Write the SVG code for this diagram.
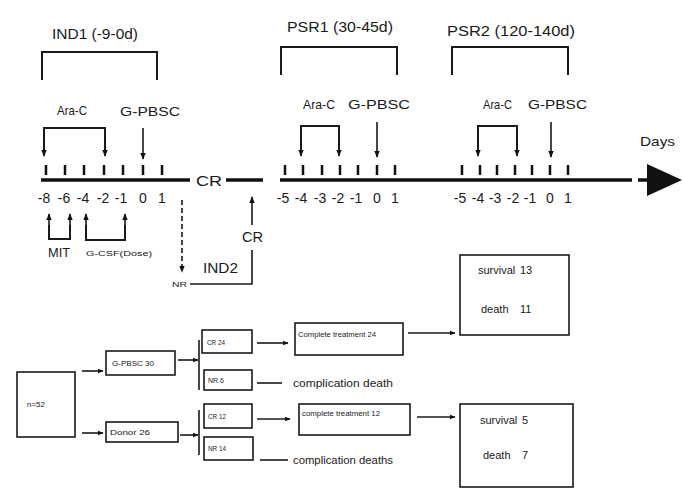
<svg xmlns="http://www.w3.org/2000/svg" width="682" height="488" viewBox="0 0 682 488">
<defs>
<style>
.t{font-family:"Liberation Sans",Arial,sans-serif;fill:#1a1a1a}
.big{font-size:14px}
.mid{font-size:13px}
.num{font-size:14px;text-anchor:middle}
.sm{font-size:8px}
.fl{font-size:11px}
.ln{stroke:#1a1a1a;stroke-width:1.6;fill:none}
.br{stroke:#1a1a1a;stroke-width:2;fill:none}
.ax{stroke:#111;stroke-width:3.5;fill:none}
.tk{stroke:#111;stroke-width:2.5}
.bx{stroke:#1a1a1a;stroke-width:1.6;fill:#fff}
</style>
<marker id="ah" viewBox="0 0 10 10" refX="9" refY="5" markerWidth="7" markerHeight="7" markerUnits="userSpaceOnUse" orient="auto">
<path d="M0,1 L10,5 L0,9 Z" fill="#111"/>
</marker>
<marker id="ahs" viewBox="0 0 10 10" refX="9" refY="5" markerWidth="6" markerHeight="6" markerUnits="userSpaceOnUse" orient="auto">
<path d="M0,1 L10,5 L0,9 Z" fill="#111"/>
</marker>
</defs>
<rect width="682" height="488" fill="#fff"/>

<g id="ind1">
<text class="t big" x="52" y="39" textLength="86" lengthAdjust="spacingAndGlyphs">IND1 (-9-0d)</text>
<path class="br" d="M42,80 V52 H157 V80"/>
<text class="t mid" x="57" y="115" textLength="30" lengthAdjust="spacingAndGlyphs">Ara-C</text>
<text class="t mid" x="120" y="116" textLength="60" lengthAdjust="spacingAndGlyphs">G-PBSC</text>
</g>
<g id="psr1">
<text class="t big" x="287" y="32" textLength="106" lengthAdjust="spacingAndGlyphs">PSR1 (30-45d)</text>
<path class="br" d="M281,75 V47 H397 V75"/>
<text class="t mid" x="303" y="109" textLength="32" lengthAdjust="spacingAndGlyphs">Ara-C</text>
<text class="t mid" x="348" y="109" textLength="62" lengthAdjust="spacingAndGlyphs">G-PBSC</text>
</g>
<g id="psr2">
<text class="t big" x="447" y="36" textLength="128" lengthAdjust="spacingAndGlyphs">PSR2 (120-140d)</text>
<path class="br" d="M452,75 V47 H568 V75"/>
<text class="t mid" x="483" y="109" textLength="29" lengthAdjust="spacingAndGlyphs">Ara-C</text>
<text class="t mid" x="528" y="109" textLength="59" lengthAdjust="spacingAndGlyphs">G-PBSC</text>
</g>
<g id="days">
<text class="t mid" x="640" y="146" textLength="35" lengthAdjust="spacingAndGlyphs">Days</text>
</g>

<g id="axis">
<line class="ax" x1="41" y1="180" x2="190" y2="180"/>
<text class="t big" x="196" y="186" textLength="26" lengthAdjust="spacingAndGlyphs">CR</text>
<line class="ax" x1="226" y1="180" x2="263" y2="180"/>
<line class="ax" x1="280" y1="180" x2="632" y2="180"/>
<line class="ax" x1="638" y1="180" x2="650" y2="180"/>
<polygon points="647,164 682,180 647,196" fill="#111"/>
<g class="tk">
<line x1="46" y1="165" x2="46" y2="175"/><line x1="65" y1="165" x2="65" y2="175"/><line x1="84" y1="165" x2="84" y2="175"/><line x1="104" y1="165" x2="104" y2="175"/><line x1="123" y1="165" x2="123" y2="175"/><line x1="143" y1="165" x2="143" y2="175"/><line x1="162" y1="165" x2="162" y2="175"/>
<line x1="285" y1="165" x2="285" y2="175"/><line x1="303" y1="165" x2="303" y2="175"/><line x1="322" y1="165" x2="322" y2="175"/><line x1="340" y1="165" x2="340" y2="175"/><line x1="358" y1="165" x2="358" y2="175"/><line x1="377" y1="165" x2="377" y2="175"/><line x1="395" y1="165" x2="395" y2="175"/>
<line x1="462" y1="165" x2="462" y2="175"/><line x1="480" y1="165" x2="480" y2="175"/><line x1="497" y1="165" x2="497" y2="175"/><line x1="515" y1="165" x2="515" y2="175"/><line x1="532" y1="165" x2="532" y2="175"/><line x1="550" y1="165" x2="550" y2="175"/><line x1="568" y1="165" x2="568" y2="175"/>
</g>
<g class="t num">
<text x="44" y="203">-8</text><text x="64" y="203">-6</text><text x="83" y="203">-4</text><text x="103" y="203">-2</text><text x="121" y="203">-1</text><text x="143" y="203">0</text><text x="162" y="203">1</text>
<text x="283" y="203">-5</text><text x="301" y="203">-4</text><text x="320" y="203">-3</text><text x="338" y="203">-2</text><text x="356" y="203">-1</text><text x="377" y="203">0</text><text x="395" y="203">1</text>
<text x="460" y="203">-5</text><text x="478" y="203">-4</text><text x="495" y="203">-3</text><text x="513" y="203">-2</text><text x="530" y="203">-1</text><text x="550" y="203">0</text><text x="568" y="203">1</text>
</g>
</g>

<g id="timeline-connectors">
<path class="br" d="M44,152 V128 H105 V152" />
<line class="ln" x1="44" y1="135" x2="44" y2="156" marker-end="url(#ah)"/>
<line class="ln" x1="105" y1="135" x2="105" y2="156" marker-end="url(#ah)"/>
<line class="ln" x1="143" y1="128" x2="143" y2="159" marker-end="url(#ah)"/>
<path class="br" d="M301,150 V126 H339 V150"/>
<line class="ln" x1="301" y1="135" x2="301" y2="156" marker-end="url(#ah)"/>
<line class="ln" x1="339" y1="135" x2="339" y2="156" marker-end="url(#ah)"/>
<line class="ln" x1="377" y1="122" x2="377" y2="157" marker-end="url(#ah)"/>
<path class="br" d="M478,150 V126 H517 V150"/>
<line class="ln" x1="478" y1="135" x2="478" y2="156" marker-end="url(#ah)"/>
<line class="ln" x1="517" y1="135" x2="517" y2="156" marker-end="url(#ah)"/>
<line class="ln" x1="551" y1="122" x2="551" y2="157" marker-end="url(#ah)"/>
<path class="br" d="M49,225 V239 H70 V225"/>
<line class="ln" x1="49" y1="232" x2="49" y2="214" marker-end="url(#ah)"/>
<line class="ln" x1="70" y1="232" x2="70" y2="214" marker-end="url(#ah)"/>
<path class="br" d="M86,225 V240 H125 V225"/>
<line class="ln" x1="86" y1="232" x2="86" y2="214" marker-end="url(#ah)"/>
<line class="ln" x1="125" y1="232" x2="125" y2="214" marker-end="url(#ah)"/>
<line class="ln" x1="182" y1="200" x2="182" y2="272" stroke-dasharray="5,3" marker-end="url(#ah)"/>
<path class="ln" d="M190,284 H252 V250"/>
<line class="ln" x1="252" y1="225" x2="252" y2="197" marker-end="url(#ah)"/>
</g>
<g id="mit"><text class="t mid" x="48" y="257" textLength="22" lengthAdjust="spacingAndGlyphs">MIT</text></g>
<g id="gcsf"><text class="t sm" x="86" y="256" textLength="66" lengthAdjust="spacingAndGlyphs">G-CSF(Dose)</text></g>
<g id="nr"><text class="t sm" x="172" y="287" textLength="15" lengthAdjust="spacingAndGlyphs">NR</text></g>
<g id="cr2"><text class="t big" x="242" y="242" textLength="21" lengthAdjust="spacingAndGlyphs">CR</text></g>
<g id="ind2"><text class="t big" x="203" y="273" textLength="35" lengthAdjust="spacingAndGlyphs">IND2</text></g>

<g id="n52"><rect class="bx" x="17" y="372" width="58" height="65"/><text class="t sm" x="27" y="407" textLength="18" lengthAdjust="spacingAndGlyphs">n=52</text></g>
<g id="gpbsc"><rect class="bx" x="106" y="351" width="69" height="24"/><text class="t sm" x="112" y="366" textLength="42" lengthAdjust="spacingAndGlyphs">G-PBSC 30</text></g>
<g id="donor"><rect class="bx" x="106" y="422" width="72" height="20"/><text class="t sm" x="110" y="435" textLength="40" lengthAdjust="spacingAndGlyphs">Donor 26</text></g>
<g id="cr24"><rect class="bx" x="202" y="330" width="50" height="23"/><text class="t sm" x="207" y="345" textLength="18" lengthAdjust="spacingAndGlyphs">CR 24</text></g>
<g id="nr6"><rect class="bx" x="204" y="370" width="48" height="20"/><text class="t sm" x="208" y="383" textLength="16" lengthAdjust="spacingAndGlyphs">NR 6</text></g>
<g id="cr12"><rect class="bx" x="204" y="404" width="48" height="24"/><text class="t sm" x="208" y="419" textLength="18" lengthAdjust="spacingAndGlyphs">CR 12</text></g>
<g id="nr14"><rect class="bx" x="204" y="437" width="49" height="23"/><text class="t sm" x="208" y="451" textLength="18" lengthAdjust="spacingAndGlyphs">NR 14</text></g>
<g id="ct24"><rect class="bx" x="295" y="323" width="108" height="32"/><text class="t sm" x="298" y="337" textLength="78" lengthAdjust="spacingAndGlyphs">Complete treatment 24</text></g>
<g id="cd1"><text class="t fl" x="293" y="387" textLength="100" lengthAdjust="spacingAndGlyphs">complication death</text></g>
<g id="ct12"><rect class="bx" x="299" y="404" width="111" height="31"/><text class="t sm" x="302" y="416" textLength="78" lengthAdjust="spacingAndGlyphs">complete treatment 12</text></g>
<g id="cd2"><text class="t fl" x="293" y="464" textLength="100" lengthAdjust="spacingAndGlyphs">complication deaths</text></g>
<g id="out1"><rect class="bx" x="460" y="255" width="109" height="80"/><text class="t fl" x="478" y="274">survival</text><text class="t fl" x="520" y="274">13</text><text class="t fl" x="481" y="313">death</text><text class="t fl" x="520" y="313">11</text></g>
<g id="out2"><rect class="bx" x="460" y="404" width="113" height="83"/><text class="t fl" x="480" y="424">survival</text><text class="t fl" x="522" y="424">5</text><text class="t fl" x="483" y="459">death</text><text class="t fl" x="522" y="459">7</text></g>

<g id="connectors">
<line class="ln" x1="82" y1="371" x2="103" y2="371" marker-end="url(#ahs)"/>
<line class="ln" x1="82" y1="433" x2="103" y2="433" marker-end="url(#ahs)"/>
<line class="ln" x1="178" y1="360" x2="198" y2="360" marker-end="url(#ahs)"/>
<line class="ln" x1="180" y1="435" x2="198" y2="435" marker-end="url(#ahs)"/>
<line class="ln" x1="199" y1="340" x2="199" y2="390"/>
<line class="ln" x1="199" y1="410" x2="199" y2="455"/>
<line class="ln" x1="257" y1="343" x2="288" y2="343" marker-end="url(#ahs)"/>
<line class="ln" x1="257" y1="383" x2="282" y2="383"/>
<line class="ln" x1="257" y1="419" x2="290" y2="419" marker-end="url(#ahs)"/>
<line class="ln" x1="260" y1="460" x2="288" y2="460"/>
<line class="ln" x1="408" y1="333" x2="455" y2="333" marker-end="url(#ahs)"/>
<line class="ln" x1="417" y1="417" x2="455" y2="417" marker-end="url(#ahs)"/>
</g>
</svg>
